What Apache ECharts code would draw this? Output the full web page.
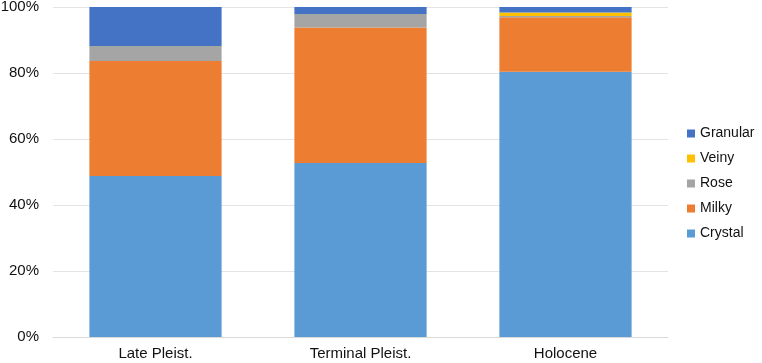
<!DOCTYPE html>
<html><head><meta charset="utf-8">
<script src="https://cdn.jsdelivr.net/npm/echarts@6/dist/echarts.min.js"></script>
<style>html,body{margin:0;padding:0;background:#fff}#c{width:762px;height:363px}</style>
</head><body><div id="c"></div>
<script>
const categories = ['Late Pleist.', 'Terminal Pleist.', 'Holocene'];
const crystal = [48.8, 52.7, 80.4];
const milky = [34.8, 41.1, 16.5];
const rose = [4.3, 3.8, 0.4];
const veiny = [0.1, 0.1, 1.0];
const granular = [12.0, 2.3, 1.7];
const yTicks = [0, 20, 40, 60, 80, 100];

const seriesDefs = [
  ['Crystal', crystal, '#5B9BD5'],
  ['Milky', milky, '#ED7D31'],
  ['Rose', rose, '#A5A5A5'],
  ['Veiny', veiny, '#FFC000'],
  ['Granular', granular, '#4472C4']
];
const chart = echarts.init(document.getElementById('c'), null, {renderer: 'canvas'});
chart.setOption({
  animation: false,
  textStyle: {fontFamily: 'Liberation Sans, Arial, sans-serif'},
  grid: {left: 53, right: 94, top: 7, bottom: 26, containLabel: false, outerBoundsMode: 'none'},
  legend: {
    orient: 'vertical', left: 682, top: 121, itemWidth: 8, itemHeight: 8, itemGap: 10,
    icon: 'rect',
    data: ['Granular', 'Veiny', 'Rose', 'Milky', 'Crystal'],
    textStyle: {fontSize: 14, color: '#111', lineHeight: 15}
  },
  xAxis: {
    type: 'category', data: categories,
    axisLine: {lineStyle: {color: '#d9d9d9'}}, axisTick: {show: false},
    axisLabel: {fontSize: 15, color: '#111', margin: 9}
  },
  yAxis: {
    type: 'value', min: yTicks[0], max: yTicks[yTicks.length - 1], interval: 20,
    axisLabel: {formatter: '{value}%', fontSize: 15, color: '#111', margin: 14},
    splitLine: {lineStyle: {color: '#e3e3e3', width: 1}},
    axisLine: {show: false}, axisTick: {show: false}
  },
  series: seriesDefs.map(([name, data, color]) => ({
    name, type: 'bar', stack: 'total', data, barWidth: '64.5%',
    itemStyle: {color}
  }))
});
</script></body></html>
